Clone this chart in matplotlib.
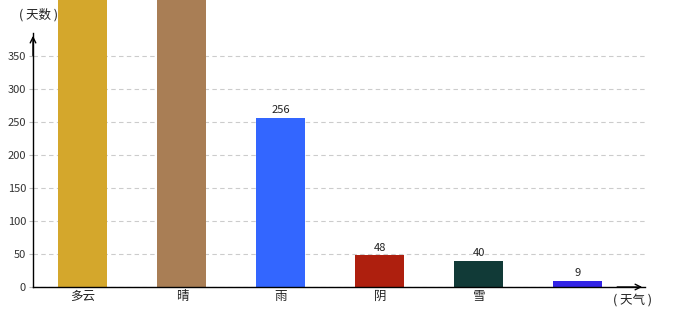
import matplotlib
matplotlib.use("Agg")
import matplotlib.pyplot as plt

plt.rcParams["font.family"] = ["Noto Sans CJK SC", "DejaVu Sans"]

categories = ["多云", "晴", "雨", "阴", "雪", ""]
days = [620, 580, 256, 48, 40, 9]
colors = ["#D4A72C", "#A97E55", "#3366FF", "#AE1F0E", "#113A37", "#3223E6"]
yticks = [0, 50, 100, 150, 200, 250, 300, 350]

W, H = 680, 320
fig = plt.figure(figsize=(W / 100, H / 100), dpi=100)
# axes box in pixels: x 33..645, y 33..287
ax = fig.add_axes([33 / W, 33 / H, (645 - 33) / W, (287 - 33) / H])

x = list(range(len(categories)))
ymax = 385
ax.set_xlim(-0.505, 5.677)
ax.set_ylim(0, ymax)

bars = ax.bar(x, days, width=0.495, color=colors, zorder=3, clip_on=False)
for xi, v in zip(x, days):
    if v < ymax:
        ax.text(xi, v + 4, str(v), ha="center", va="bottom", fontsize=8, color="#222222")

ax.set_yticks(yticks)
ax.set_yticklabels([str(t) for t in yticks], fontsize=8, color="#333333")
ax.set_xticks(x)
ax.set_xticklabels(categories, fontsize=9, color="#222222")
ax.tick_params(axis="y", length=3, width=0.8, color="#bbbbbb", pad=2)
ax.tick_params(axis="x", length=0, pad=2)
ax.grid(axis="y", linestyle=(0, (4, 3)), color="#cccccc", linewidth=0.8, zorder=0)

for s in ["top", "right"]:
    ax.spines[s].set_visible(False)
for s in ["left", "bottom"]:
    ax.spines[s].set_color("black")
    ax.spines[s].set_linewidth(1)
    ax.spines[s].set_zorder(4)

# arrow heads on the axes
ax.annotate("", xy=(0, 1.0), xytext=(0, 0.9), xycoords="axes fraction",
            arrowprops=dict(arrowstyle="->", color="black", lw=1))
ax.annotate("", xy=(1.0, 0), xytext=(0.95, 0), xycoords="axes fraction",
            arrowprops=dict(arrowstyle="->", color="black", lw=1))

fig.text(19 / W, 1 - 15 / H, "( 天数 )", fontsize=9, color="#222222", va="center", ha="left")
fig.text(613 / W, 1 - 300 / H, "( 天气 )", fontsize=9, color="#222222", va="center", ha="left")

fig.savefig("out.png", dpi=100, facecolor="white")
